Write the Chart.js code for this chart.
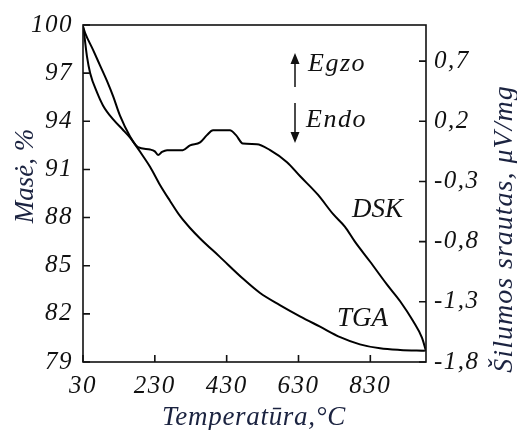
<!DOCTYPE html>
<html>
<head>
<meta charset="utf-8">
<script src="https://cdn.jsdelivr.net/npm/chart.js"></script>
<style>
  body { margin: 0; background: #fff; }
  #box { width: 517px; height: 430px; }
</style>
</head>
<body>
<div id="box"><canvas id="chart" width="517" height="430"></canvas></div>
<script>
// TGA curve - mass, %
let tgaTemp = [30, 36, 58, 77, 97, 114, 133, 161, 189, 217, 244, 272, 300, 328, 356, 411, 475, 523, 578, 634, 690, 746, 801, 857, 913, 982];
let tgaMass = [99.9, 99.5, 98.45, 97.5, 96.5, 95.55, 94.35, 93.05, 92.1, 91.15, 90.05, 89.05, 88.1, 87.35, 86.7, 85.55, 84.2, 83.3, 82.55, 81.85, 81.2, 80.55, 80.1, 79.85, 79.75, 79.7];

// DSK curve - heat flow, uV/mg
let dskTemp = [30, 33, 41, 50, 69, 86, 114, 141, 161, 183, 217, 230, 239, 250, 264, 308, 328, 356, 375, 392, 439, 456, 475, 514, 551, 598, 634, 684, 726, 759, 787, 829, 876, 913, 949, 974, 985];
let dskFlow = [0.99, 0.93, 0.74, 0.6, 0.44, 0.33, 0.215, 0.13, 0.065, -0.015, -0.035, -0.05, -0.08, -0.055, -0.04, -0.04, 0.0, 0.025, 0.085, 0.125, 0.125, 0.085, 0.015, 0.01, -0.04, -0.14, -0.255, -0.41, -0.57, -0.675, -0.8, -0.965, -1.155, -1.295, -1.46, -1.6, -1.71];

let tempTicks = [30, 230, 430, 630, 830];
let massTicks = [79, 82, 85, 88, 91, 94, 97, 100];
let flowTicks = [-1.8, -1.3, -0.8, -0.3, 0.2, 0.7];

const serif = "'Liberation Serif', 'Times New Roman', serif";
const ink = '#111';
const titleInk = '#1b2340';

function points(xs, ys) {
    return xs.map((x, i) => ({x: x, y: ys[i]}));
}

function fixTicks(values) {
    return function(scale) {
        scale.ticks = values.map(v => ({value: v}));
    };
}

let tickFont = {family: serif, size: 25, style: 'italic'};

function spaced(ctx, px) {
    if ('letterSpacing' in ctx) ctx.letterSpacing = px + 'px';
}

// frame, inward tick marks and all the extra text
let frame = {
    id: 'frame',
    beforeDraw(chart) {
        spaced(chart.ctx, 1.5);
    },
    afterDraw(chart) {
        const ctx = chart.ctx;
        const a = chart.chartArea;
        const sx = chart.scales.x, sm = chart.scales.mass, sf = chart.scales.flow;
        ctx.save();
        ctx.strokeStyle = ink;
        ctx.lineWidth = 1.6;
        ctx.strokeRect(a.left, a.top, a.right - a.left, a.bottom - a.top);
        ctx.beginPath();
        tempTicks.forEach(v => {
            let p = sx.getPixelForValue(v);
            ctx.moveTo(p, a.bottom); ctx.lineTo(p, a.bottom - 7);
        });
        massTicks.forEach(v => {
            let p = sm.getPixelForValue(v);
            ctx.moveTo(a.left, p); ctx.lineTo(a.left + 7, p);
        });
        flowTicks.forEach(v => {
            let p = sf.getPixelForValue(v);
            ctx.moveTo(a.right, p); ctx.lineTo(a.right - 7, p);
        });
        ctx.stroke();

        // arrows
        ctx.fillStyle = ink;
        ctx.lineWidth = 1.5;
        ctx.beginPath();
        ctx.moveTo(295, 87); ctx.lineTo(295, 62);
        ctx.moveTo(295, 103); ctx.lineTo(295, 134);
        ctx.stroke();
        ctx.beginPath();
        ctx.moveTo(295, 53); ctx.lineTo(290.5, 64); ctx.lineTo(299.5, 64); ctx.closePath();
        ctx.moveTo(295, 143); ctx.lineTo(290.5, 132); ctx.lineTo(299.5, 132); ctx.closePath();
        ctx.fill();

        ctx.font = 'italic 26px ' + serif;
        ctx.textAlign = 'left';
        ctx.textBaseline = 'alphabetic';
        spaced(ctx, 1.5);
        ctx.fillText('Egzo', 308, 71);
        ctx.fillText('Endo', 306, 127);
        spaced(ctx, 0);
        ctx.font = 'italic 27px ' + serif;
        ctx.fillText('DSK', 352, 217);
        ctx.fillText('TGA', 337, 326);

        // axis titles
        ctx.fillStyle = titleInk;
        ctx.font = 'italic 27px ' + serif;
        ctx.textAlign = 'center';
        spaced(ctx, 0.7);
        ctx.fillText('Temperatūra,°C', 254, 425);

        spaced(ctx, 0);
        ctx.save();
        ctx.translate(33, 176);
        ctx.rotate(-Math.PI / 2);
        ctx.fillText('Masė, %', 0, 0);
        ctx.restore();

        ctx.font = 'italic 28px ' + serif;
        spaced(ctx, 1);
        ctx.save();
        ctx.translate(512, 229);
        ctx.rotate(-Math.PI / 2);
        ctx.fillText('Šilumos srautas, μV/mg', 0, 0);
        ctx.restore();

        ctx.restore();
    }
};

let chartData = {
    datasets: [{
        label: 'TGA',
        data: points(tgaTemp, tgaMass),
        yAxisID: 'mass',
        borderColor: '#000',
        borderWidth: 2,
        pointRadius: 0,
        fill: false,
        cubicInterpolationMode: 'monotone'
    }, {
        label: 'DSK',
        data: points(dskTemp, dskFlow),
        yAxisID: 'flow',
        borderColor: '#000',
        borderWidth: 2,
        pointRadius: 0,
        fill: false,
        cubicInterpolationMode: 'monotone'
    }]
};

function generateChart() {
    let context = document.getElementById('chart').getContext('2d');
    return new Chart(context, {
        type: 'line',
        data: chartData,
        plugins: [frame],
        options: {
            responsive: false,
            animation: false,
            layout: {padding: {top: 22, left: 0, right: 0, bottom: 0}},
            plugins: {legend: {display: false}, tooltip: {enabled: false}},
            scales: {
                x: {
                    type: 'linear',
                    position: 'bottom',
                    min: 30,
                    max: 985,
                    afterBuildTicks: fixTicks(tempTicks),
                    afterFit: s => { s.height = 68; },
                    grid: {display: false, drawTicks: false},
                    border: {display: false},
                    ticks: {font: tickFont, color: ink, padding: 9, maxRotation: 0, autoSkip: false}
                },
                mass: {
                    type: 'linear',
                    position: 'left',
                    min: 79,
                    max: 100,
                    afterBuildTicks: fixTicks(massTicks),
                    afterFit: s => { s.width = 83; },
                    grid: {display: false, drawTicks: false},
                    border: {display: false},
                    ticks: {font: tickFont, color: ink, padding: 10, autoSkip: false}
                },
                flow: {
                    type: 'linear',
                    position: 'right',
                    min: -1.8,
                    max: 1.0,
                    afterBuildTicks: fixTicks(flowTicks),
                    afterFit: s => { s.width = 91; },
                    grid: {display: false, drawTicks: false},
                    border: {display: false},
                    ticks: {
                        font: tickFont, color: ink, padding: 8, autoSkip: false,
                        callback: v => v.toFixed(1).replace('.', ',')
                    }
                }
            }
        }
    });
}

generateChart();
</script>
</body>
</html>
